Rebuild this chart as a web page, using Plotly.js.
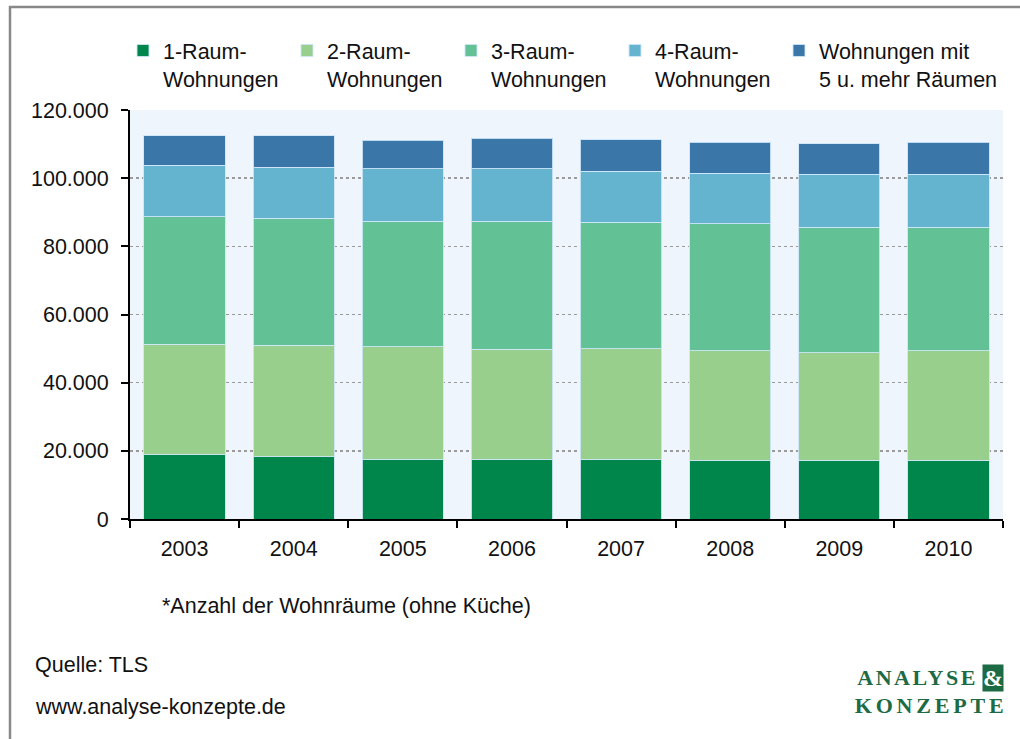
<!DOCTYPE html>
<html>
<head>
<meta charset="utf-8">
<script src="https://cdn.plot.ly/plotly-3.0.1.min.js"></script>
<style>
html,body{margin:0;padding:0;background:#fff;}
#chart{width:1020px;height:739px;}
g.annotation[data-index="3"] text{letter-spacing:2.5px;}
g.annotation[data-index="5"] text{letter-spacing:3.8px;}
</style>
</head>
<body>
<div id="chart"></div>
<script>
const years = ['2003','2004','2005','2006','2007','2008','2009','2010'];
const raum1 = [18800, 18200, 17600, 17600, 17600, 17200, 17200, 17200];
const raum2 = [32500, 32800, 32900, 32200, 32300, 32100, 31600, 32100];
const raum3 = [37400, 37200, 36900, 37600, 37200, 37400, 36800, 36300];
const raum4 = [15100, 15000, 15300, 15300, 15000, 14800, 15600, 15600];
const raum5 = [8600, 9200, 8400, 9000, 9100, 9100, 8900, 9400];
const seriesNames = ['1-Raum-<br>Wohnungen','2-Raum-<br>Wohnungen','3-Raum-<br>Wohnungen','4-Raum-<br>Wohnungen','Wohnungen mit<br>5 u. mehr Räumen'];
const seriesColors = ['#00854A','#99CF8D','#62C295','#64B4D0','#3A77A8'];
const seriesValues = [raum1, raum2, raum3, raum4, raum5];

const FONT = '"Liberation Sans", Arial, sans-serif';
const FS = 21.5;

const traces = seriesValues.map((vals, i) => ({
  type: 'bar',
  x: years,
  y: vals,
  name: seriesNames[i],
  legend: i < 4 ? 'legend' : 'legend2',
  marker: {color: seriesColors[i], line: {color: 'rgba(205,230,248,0.9)', width: 1}},
  hoverinfo: 'y+name'
}));

// paper-coordinate helpers (plot area: x 130..1003, y 110..519)
const px = v => (v - 130) / 873;
const py = v => (519 - v) / 409;

const legendBase = {
  orientation: 'h',
  xanchor: 'left',
  y: py(30), yanchor: 'top',
  valign: 'top',
  traceorder: 'normal',
  font: {family: FONT, size: FS, color: '#111'},
  bgcolor: 'rgba(0,0,0,0)'
};

const layout = {
  width: 1020, height: 739,
  margin: {l: 130, r: 17, t: 110, b: 220},
  paper_bgcolor: '#ffffff',
  plot_bgcolor: '#EEF5FD',
  barmode: 'stack',
  bargap: 0.255,
  separators: ',.',
  font: {family: FONT, size: FS, color: '#111'},
  showlegend: true,
  legend: Object.assign({}, legendBase, {x: px(123), entrywidth: 119, entrywidthmode: 'pixels'}),
  legend2: Object.assign({}, legendBase, {x: px(779)}),
  xaxis: {
    type: 'category',
    showline: true, linecolor: '#000', linewidth: 2,
    ticks: 'outside', tickson: 'boundaries', ticklen: 7, tickwidth: 2, tickcolor: '#000',
    showgrid: false,
    ticklabelstandoff: 9,
    tickfont: {family: FONT, size: FS, color: '#111'}
  },
  yaxis: {
    range: [0, 120000], tickvals: [0,20000,40000,60000,80000,100000,120000],
    tickformat: ',d',
    showline: true, linecolor: '#000', linewidth: 2,
    ticks: 'outside', ticklen: 7, tickwidth: 2, tickcolor: '#000',
    showgrid: true, gridcolor: '#9a9a9a', gridwidth: 1.5, griddash: 'dot',
    zeroline: false,
    ticklabelstandoff: 8,
    tickfont: {family: FONT, size: FS, color: '#111'}
  },
  shapes: [
    {type: 'line', xref: 'paper', yref: 'paper', x0: px(10), x1: px(10), y0: py(6), y1: py(745), line: {color: '#888', width: 2.5}},
    {type: 'line', xref: 'paper', yref: 'paper', x0: px(9), x1: px(1025), y0: py(7), y1: py(7), line: {color: '#888', width: 2.5}}
  ],
  annotations: [
    {xref: 'paper', yref: 'paper', x: px(160), y: py(606), xanchor: 'left', yanchor: 'middle', showarrow: false,
     text: '*Anzahl der Wohnräume (ohne Küche)', font: {family: FONT, size: FS, color: '#111'}},
    {xref: 'paper', yref: 'paper', x: px(33), y: py(665), xanchor: 'left', yanchor: 'middle', showarrow: false,
     text: 'Quelle: TLS', font: {family: FONT, size: FS, color: '#111'}},
    {xref: 'paper', yref: 'paper', x: px(33), y: py(707), xanchor: 'left', yanchor: 'middle', showarrow: false,
     text: 'www.analyse-konzepte.de', font: {family: FONT, size: FS, color: '#111'}},
    {xref: 'paper', yref: 'paper', x: px(864), y: py(677), xanchor: 'left', yanchor: 'middle', showarrow: false,
     text: '<b>ANALYSE</b>', font: {family: '"Liberation Serif", serif', size: 22, color: '#1D6B45'}},
    {xref: 'paper', yref: 'paper', x: px(993), y: py(678), xanchor: 'center', yanchor: 'middle', showarrow: false,
     text: '<b>&amp;</b>', bgcolor: '#1D6B45', borderpad: 0, font: {family: '"Liberation Serif", serif', size: 24, color: '#ffffff'}},
    {xref: 'paper', yref: 'paper', x: px(868), y: py(705), xanchor: 'left', yanchor: 'middle', showarrow: false,
     text: '<b>KONZEPTE</b>', font: {family: '"Liberation Serif", serif', size: 22, color: '#1D6B45'}}
  ]
};

Plotly.newPlot('chart', traces, layout, {displayModeBar: false, staticPlot: true});
</script>
</body>
</html>
